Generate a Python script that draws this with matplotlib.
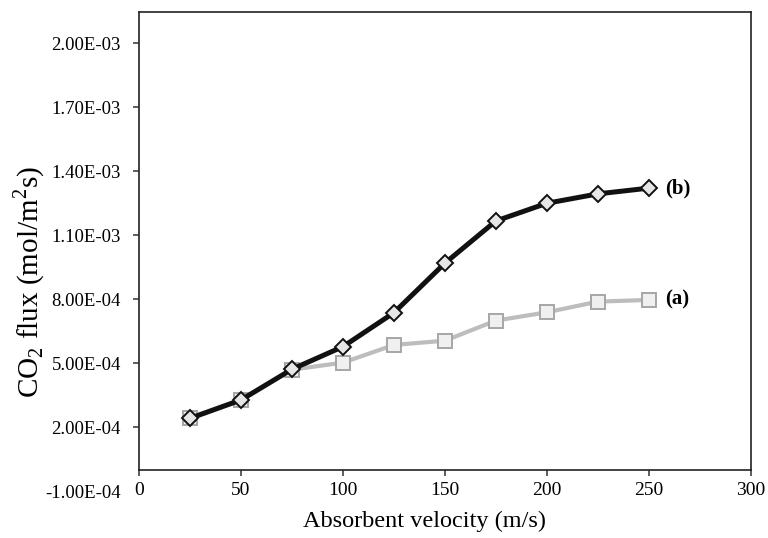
import matplotlib
matplotlib.use("Agg")
import matplotlib.pyplot as plt

plt.rcParams["font.family"] = ["Liberation Serif", "DejaVu Serif"]
plt.rcParams["mathtext.fontset"] = "custom"
plt.rcParams["mathtext.rm"] = "Liberation Serif"

# absorbent velocity (m/s)
velocity = [25, 50, 75, 100, 125, 150, 175, 200, 225, 250]
# CO2 flux (mol/m2 s)
flux_a = [2.45e-4, 3.3e-4, 4.7e-4, 5.03e-4, 5.86e-4, 6.06e-4, 7.0e-4, 7.39e-4, 7.89e-4, 7.97e-4]
flux_b = [2.42e-4, 3.28e-4, 4.72e-4, 5.78e-4, 7.37e-4, 9.69e-4, 1.167e-3, 1.25e-3, 1.294e-3, 1.321e-3]

y_ticks = [-1e-4, 2e-4, 5e-4, 8e-4, 1.1e-3, 1.4e-3, 1.7e-3, 2.0e-3]
x_ticks = [0, 50, 100, 150, 200, 250, 300]

fig = plt.figure(figsize=(7.68, 5.38), dpi=100)
ax = fig.add_axes([0.181, 0.0868, 0.7965, 0.8903])

ax.plot(velocity, flux_a, color="#bdbdbd", lw=3, marker="s", ms=10.5,
        mfc="#f0f0f0", mec="#a6a6a6", mew=1.4, zorder=2)
ax.plot(velocity, flux_b, color="#111111", lw=3.6, marker="D", ms=8.5,
        mfc="#e6e6e6", mec="#111111", mew=1.4, zorder=3)

ax.text(258, flux_b[-1], "(b)", fontsize=15, fontweight="bold", va="center", ha="left")
ax.text(258, flux_a[-1], "(a)", fontsize=15, fontweight="bold", va="center", ha="left")

ax.set_xlim(0, 300)
ax.set_ylim(-1e-4, 2.145e-3)
ax.set_xticks(x_ticks)
ax.set_yticks(y_ticks)
ax.set_yticklabels([f"{v:.2E}" for v in y_ticks])

# box: x axis crosses at y = 0, the -1E-04 label hangs below it
ax.spines["bottom"].set_position(("data", 0))
ax.spines["left"].set_bounds(0, 2.145e-3)
ax.spines["right"].set_bounds(0, 2.145e-3)
for s in ax.spines.values():
    s.set_linewidth(1.2)
    s.set_color("#222222")
ax.tick_params(direction="out", length=4, width=1.1, color="#333333", labelsize=14)
ax.tick_params(axis="y", pad=9, labelsize=13.5)
ax.tick_params(axis="x", pad=5)
ax.yaxis.get_major_ticks()[0].tick1line.set_visible(False)

fig.text(0.553, 0.030, "Absorbent velocity (m/s)", fontsize=17.5, ha="center", va="center")
fig.text(0.038, 1 - 281.5 / 538, r"CO$_2$ flux (mol/m$^2$s)", fontsize=21,
         rotation=90, ha="center", va="center")

fig.savefig("out.png", dpi=100)
